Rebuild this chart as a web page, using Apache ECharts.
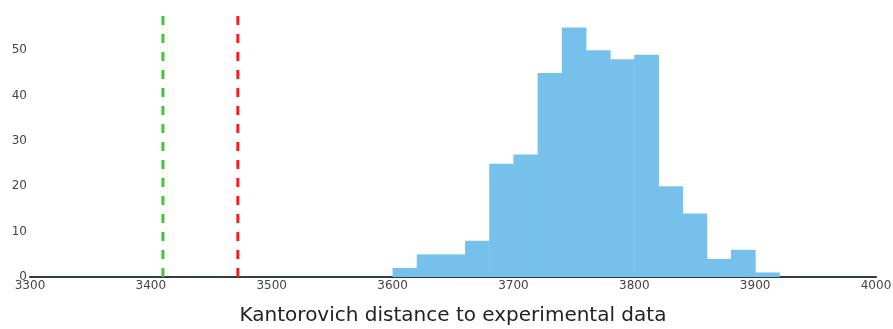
<!DOCTYPE html>
<html>
<head>
<meta charset="utf-8">
<script src="https://cdn.jsdelivr.net/npm/echarts@6/dist/echarts.min.js"></script>
<style>
  html, body { margin: 0; padding: 0; background: #fff; }
  #chart { width: 893px; height: 329px; }
</style>
</head>
<body>
<div id="chart"></div>
<script>
// Histogram bins (width 20) of the Kantorovich distance and their counts
const binStarts = [3600, 3620, 3640, 3660, 3680, 3700, 3720, 3740, 3760, 3780, 3800, 3820, 3840, 3860, 3880, 3900];
const binWidth = 20;
const counts = [2, 5, 5, 8, 25, 27, 45, 55, 50, 48, 49, 20, 14, 4, 6, 1];

// Reference distances drawn as dashed vertical lines
const greenLineX = 3410;
const redLineX = 3472;

const xTicks = [3300, 3400, 3500, 3600, 3700, 3800, 3900, 4000];
const yTicks = [0, 10, 20, 30, 40, 50];
const xTitle = 'Kantorovich distance to experimental data';

const yMax = 58;
const font = 'DejaVu Sans, Verdana, sans-serif';

const histData = binStarts.map((s, i) => [s, s + binWidth, counts[i]]);

const chart = echarts.init(document.getElementById('chart'), null, { renderer: 'canvas' });

chart.setOption({
  animation: false,
  backgroundColor: '#ffffff',
  grid: { left: 30, right: 17, top: 14, bottom: 52, outerBoundsMode: 'none', containLabel: false },
  xAxis: {
    type: 'value',
    min: xTicks[0],
    max: xTicks[xTicks.length - 1],
    interval: 100,
    name: xTitle,
    nameLocation: 'middle',
    nameGap: 29,
    nameTextStyle: { fontFamily: font, fontSize: 20, color: '#222' },
    axisLine: { show: true, lineStyle: { color: '#2f3b46', width: 2 } },
    axisTick: { show: false },
    splitLine: { show: false },
    axisLabel: {
      fontFamily: font, fontSize: 12, color: '#444', margin: 3,
      formatter: v => String(v)
    }
  },
  yAxis: {
    type: 'value',
    min: 0,
    max: yMax,
    interval: 10,
    axisLine: { show: false },
    axisTick: { show: false },
    splitLine: { show: false },
    axisLabel: {
      fontFamily: font, fontSize: 12, color: '#444', margin: 3,
      formatter: v => (yTicks.indexOf(v) >= 0 ? String(v) : '')
    }
  },
  series: [
    {
      type: 'custom',
      data: histData,
      encode: { x: [0, 1], y: 2 },
      renderItem: function (params, api) {
        const p0 = api.coord([api.value(0), 0]);
        const p1 = api.coord([api.value(1), api.value(2)]);
        return {
          type: 'rect',
          shape: { x: p0[0], y: p1[1], width: p1[0] - p0[0] + 0.5, height: p0[1] - p1[1] },
          style: { fill: '#75c1eb' }
        };
      },
      z: 2
    },
    {
      type: 'line',
      data: [[greenLineX, 0], [greenLineX, yMax]],
      symbol: 'none',
      lineStyle: { color: '#44c238', width: 3, type: [9, 9] },
      z: 3
    },
    {
      type: 'line',
      data: [[redLineX, 0], [redLineX, yMax]],
      symbol: 'none',
      lineStyle: { color: '#ff1a1a', width: 3, type: [9, 9] },
      z: 3
    }
  ]
});
</script>
</body>
</html>
